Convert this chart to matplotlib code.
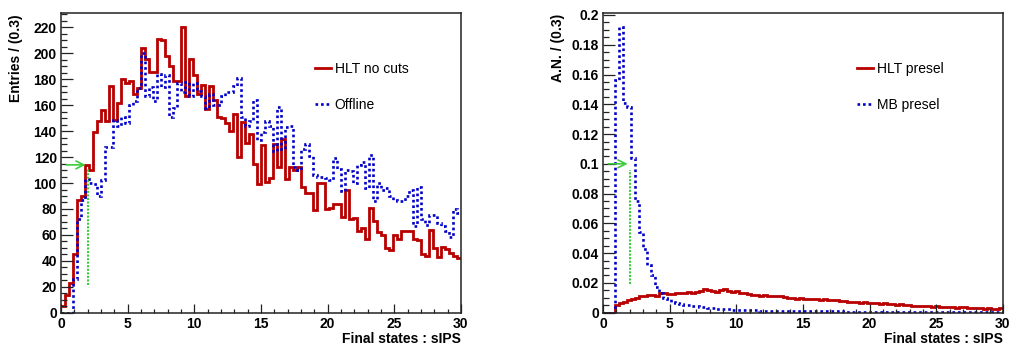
import numpy as np
import matplotlib

matplotlib.use("Agg")

import matplotlib.pyplot as plt
from matplotlib.ticker import MultipleLocator, FormatStrFormatter

plt.rcParams["font.family"] = ["Liberation Sans", "DejaVu Sans"]

# binning: 100 bins of 0.3 between 0 and 30
bin_width = 0.3
n_bins = 100

# left pad: entries
hlt_no_cuts = [
    5, 14, 23, 45, 87, 90, 114, 110, 139, 148,
    156, 148, 175, 149, 162, 180, 177, 179, 169, 173,
    204, 196, 186, 186, 211, 210, 198, 190, 179, 179,
    220, 167, 196, 183, 169, 176, 157, 175, 164, 151,
    150, 146, 140, 153, 120, 147, 131, 138, 115, 99,
    129, 101, 104, 130, 112, 134, 103, 112, 110, 112,
    97, 92, 92, 79, 100, 100, 80, 81, 84, 84,
    74, 95, 72, 73, 63, 65, 57, 81, 71, 62,
    60, 50, 48, 60, 57, 63, 63, 63, 57, 56,
    45, 44, 64, 50, 43, 51, 49, 46, 44, 42,
]
offline = [
    0, 0, 0, 26, 72, 87, 103, 100, 99, 90,
    102, 128, 128, 149, 144, 151, 146, 160, 163, 173,
    200, 167, 174, 163, 184, 174, 183, 151, 158, 177,
    170, 178, 167, 177, 171, 167, 158, 169, 160, 160,
    167, 170, 170, 175, 181, 151, 144, 148, 164, 133,
    139, 148, 144, 125, 159, 126, 143, 144, 112, 110,
    126, 130, 121, 106, 105, 105, 104, 102, 119, 111,
    94, 110, 109, 100, 114, 116, 96, 122, 86, 100,
    95, 96, 90, 87, 86, 86, 90, 95, 67, 97,
    72, 68, 75, 75, 69, 67, 63, 58, 80, 77,
]

# right pad: normalised
hlt_presel = [
    0, 0, 0, 0.0055, 0.0065, 0.0075, 0.0085, 0.0092, 0.0100, 0.0110,
    0.0112, 0.0118, 0.0120, 0.0115, 0.0130, 0.0135, 0.0125, 0.0128, 0.0130, 0.0132,
    0.0135, 0.0138, 0.0135, 0.0140, 0.0145, 0.0160, 0.0155, 0.0148, 0.0142, 0.0150,
    0.0160, 0.0145, 0.0138, 0.0148, 0.0135, 0.0130, 0.0128, 0.0122, 0.0120, 0.0115,
    0.0118, 0.0112, 0.0115, 0.0110, 0.0112, 0.0105, 0.0100, 0.0102, 0.0095, 0.0098,
    0.0092, 0.0095, 0.0090, 0.0093, 0.0088, 0.0090, 0.0085, 0.0088, 0.0082, 0.0080,
    0.0078, 0.0075, 0.0070, 0.0072, 0.0068, 0.0075, 0.0065, 0.0068, 0.0062, 0.0060,
    0.0063, 0.0058, 0.0060, 0.0055, 0.0058, 0.0052, 0.0050, 0.0048, 0.0045, 0.0047,
    0.0042, 0.0044, 0.0040, 0.0042, 0.0040, 0.0038, 0.0040, 0.0036, 0.0034, 0.0035,
    0.0038, 0.0032, 0.0030, 0.0033, 0.0030, 0.0028, 0.0030, 0.0027, 0.0026, 0.0030,
]
mb_presel = [
    0, 0, 0, 0.156, 0.192, 0.141, 0.138, 0.104, 0.075, 0.054,
    0.043, 0.032, 0.025, 0.017, 0.013, 0.010, 0.009, 0.0075, 0.0068, 0.0060,
    0.0055, 0.0050, 0.0047, 0.0044, 0.0040, 0.0036, 0.0033, 0.0030, 0.0028, 0.0026,
    0.0024, 0.0022, 0.0021, 0.0020, 0.0019, 0.0018, 0.0017, 0.0016, 0.0015, 0.0014,
    0.0014, 0.0013, 0.0013, 0.0012, 0.0012, 0.0011, 0.0011, 0.0010, 0.0010, 0.0010,
    0.0009, 0.0009, 0.0009, 0.0009, 0.0008, 0.0008, 0.0008, 0.0008, 0.0008, 0.0008,
    0.0007, 0.0007, 0.0007, 0.0007, 0.0007, 0.0006, 0.0006, 0.0006, 0.0006, 0.0006,
    0.0006, 0.0005, 0.0005, 0.0005, 0.0005, 0.0005, 0.0005, 0.0005, 0.0004, 0.0004,
    0.0004, 0.0004, 0.0004, 0.0004, 0.0004, 0.0004, 0.0003, 0.0003, 0.0003, 0.0003,
    0.0003, 0.0003, 0.0003, 0.0003, 0.0003, 0.0003, 0.0003, 0.0003, 0.0003, 0.0003,
]

# cut marker (arrow + dotted line) on each pad
cut_value = 2.0
arrow_start = 0.4
arrow_end = 1.85
left_arrow_y = 114
left_cut_range = (21, 111)
right_arrow_y = 0.1
right_cut_range = (0.019, 0.096)

RED = "#b80000"
BLUE = "#0000c8"
GREEN = "#3ccc3c"

edges = np.arange(n_bins + 1) * bin_width

fig = plt.figure(figsize=(10.11, 3.5), dpi=100)
ax_l = fig.add_axes([0.0603, 0.1066, 0.3956, 0.8557])
ax_r = fig.add_axes([0.5964, 0.1066, 0.3956, 0.8557])


def style_axis(ax, ymax, ymajor, yminor, yfmt):
    ax.set_xlim(0, 30)
    ax.set_ylim(0, ymax)
    ax.xaxis.set_major_locator(MultipleLocator(5))
    ax.xaxis.set_minor_locator(MultipleLocator(1))
    ax.yaxis.set_major_locator(MultipleLocator(ymajor))
    ax.yaxis.set_minor_locator(MultipleLocator(yminor))
    ax.yaxis.set_major_formatter(FormatStrFormatter(yfmt))
    ax.tick_params(axis="both", which="both", direction="in", top=False, right=False,
                   color="#222222", width=0.9)
    ax.tick_params(axis="y", which="major", length=8.6, pad=3)
    ax.tick_params(axis="y", which="minor", length=4.3)
    ax.tick_params(axis="x", which="major", length=6.5, pad=3)
    ax.tick_params(axis="x", which="minor", length=3.2)
    for lab in ax.get_xticklabels() + ax.get_yticklabels():
        lab.set_fontweight("bold")
        lab.set_fontsize(10)
    for sp in ax.spines.values():
        sp.set_linewidth(1.1)
        sp.set_color("#222222")
        sp.set_zorder(5)


def draw_cut(ax, arrow_y, cut_range):
    ax.annotate("", xy=(arrow_end, arrow_y), xytext=(arrow_start, arrow_y),
                arrowprops=dict(arrowstyle="->", color=GREEN, lw=1.2, mutation_scale=14,
                                shrinkA=0, shrinkB=0))
    ax.vlines(cut_value, *cut_range, colors=GREEN, linestyles=(0, (1, 0.7)), lw=1.5)


# left pad
ax_l.stairs(hlt_no_cuts, edges, baseline=None, color=RED, lw=2.0, label="HLT no cuts")
ax_l.stairs(offline, edges, baseline=None, color=BLUE, lw=1.9, linestyle=(0, (1, 1.1)),
            label="Offline")
draw_cut(ax_l, left_arrow_y, left_cut_range)
style_axis(ax_l, 231, 20, 5, "%g")

# right pad
ax_r.stairs(hlt_presel, edges, baseline=None, color=RED, lw=2.0, label="HLT presel")
ax_r.stairs(mb_presel, edges, baseline=None, color=BLUE, lw=1.9, linestyle=(0, (1, 1.1)),
            label="MB presel")
draw_cut(ax_r, right_arrow_y, right_cut_range)
style_axis(ax_r, 0.2012, 0.02, 0.005, "%g")

for ax in (ax_l, ax_r):
    ax.legend(loc="upper left", bbox_to_anchor=(0.636, 0.838), frameon=False,
              fontsize=10, handlelength=1.1, handletextpad=0.3, labelspacing=1.6,
              borderpad=0, borderaxespad=0)
    ax.text(1.0, -0.088, "Final states : sIPS", transform=ax.transAxes, ha="right",
            va="center", fontsize=10, fontweight="bold")

fig.text(16 / 1011, 1 - 14 / 350, "Entries / (0.3)", rotation=90, ha="center", va="top",
         fontsize=10, fontweight="bold")
fig.text(558 / 1011, 1 - 14 / 350, "A.N. / (0.3)", rotation=90, ha="center", va="top",
         fontsize=10, fontweight="bold")

fig.savefig("out.png", dpi=100)
